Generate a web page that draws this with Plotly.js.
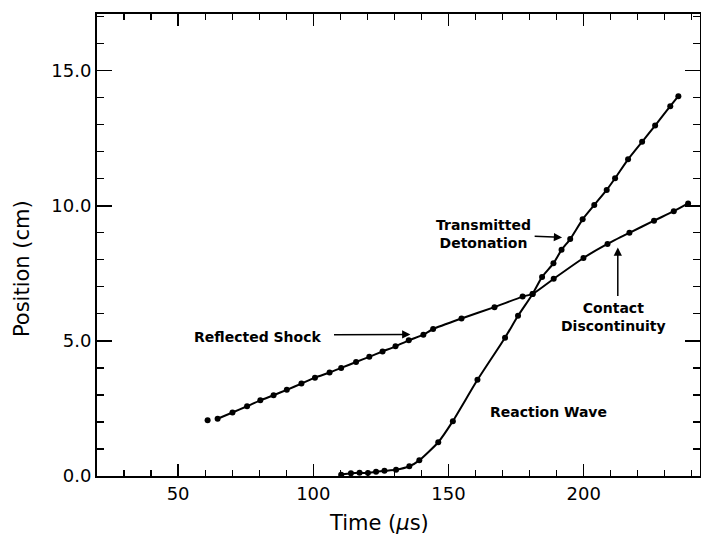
<!DOCTYPE html>
<html>
<head>
<meta charset="utf-8">
<script src="https://cdn.plot.ly/plotly-3.0.1.min.js"></script>
<style>html,body{margin:0;padding:0;background:#fff;}</style>
</head>
<body>
<div id="chart" style="width:701px;height:540px;"></div>
<script>
// Reflected shock, continuing as the contact discontinuity (time in μs, position in cm)
const shockTime = [64.6, 70.1, 75.5, 80.4, 85.3, 90.2, 95.6, 100.6, 106.0, 110.3, 115.8, 120.7, 125.6, 130.4, 135.3, 140.7, 144.3, 154.8, 167.0, 177.4, 181.1, 188.9, 199.9, 208.8, 216.9, 226.0, 233.3, 238.6];
const shockPos  = [2.12, 2.35, 2.58, 2.80, 2.99, 3.19, 3.42, 3.64, 3.83, 4.00, 4.22, 4.41, 4.61, 4.80, 5.02, 5.23, 5.44, 5.83, 6.25, 6.64, 6.74, 7.30, 8.07, 8.59, 9.00, 9.45, 9.80, 10.09];

// Reaction wave, continuing as the transmitted detonation
const reactTime = [110.3, 113.9, 117.1, 120.2, 123.2, 126.3, 130.6, 135.5, 139.2, 146.2, 151.6, 160.7, 170.9, 175.7, 181.1, 184.6, 188.8, 191.8, 195.0, 199.6, 203.9, 208.5, 211.6, 216.4, 221.6, 226.4, 232.0, 235.0];
const reactPos  = [0.05, 0.10, 0.12, 0.11, 0.16, 0.19, 0.23, 0.36, 0.58, 1.25, 2.03, 3.56, 5.12, 5.93, 6.74, 7.37, 7.87, 8.37, 8.77, 9.50, 10.03, 10.59, 11.02, 11.72, 12.37, 12.97, 13.69, 14.06];

// Isolated initial point
const startTime = [60.9];
const startPos  = [2.06];

// Tick labels
const xTickVals = [50, 100, 150, 200];
const xTickText = ['50', '100', '150', '200'];
const yTickVals = [0, 5, 10, 15];
const yTickText = ['0.0', '5.0', '10.0', '15.0'];

const lineStyle = {color: '#000', width: 2};
const markerStyle = {color: '#000', size: 6, symbol: 'circle'};

const traces = [
  {x: shockTime, y: shockPos, mode: 'lines+markers', line: Object.assign({shape: 'spline', smoothing: 0.5}, lineStyle), marker: markerStyle, name: 'Reflected Shock', showlegend: false, hoverinfo: 'x+y'},
  {x: reactTime, y: reactPos, mode: 'lines+markers', line: Object.assign({shape: 'spline', smoothing: 0.5}, lineStyle), marker: markerStyle, name: 'Reaction Wave', showlegend: false, hoverinfo: 'x+y'},
  {x: startTime, y: startPos, mode: 'markers', marker: markerStyle, showlegend: false, hoverinfo: 'x+y'}
];

const annFont = {family: 'DejaVu Sans', size: 14, color: '#000', weight: 'bold'};
const titleFont = {family: 'DejaVu Sans', size: 21, color: '#000'};

function arrow(tx, ty, hx, hy) {
  return {x: hx, y: hy, ax: tx, ay: ty, xref: 'x', yref: 'y', axref: 'x', ayref: 'y',
          text: '', showarrow: true, arrowhead: 2, arrowsize: 1.1, arrowwidth: 1.5, arrowcolor: '#000'};
}

const annotations = [
  {x: 79.3, y: 5.14, xref: 'x', yref: 'y', text: 'Reflected Shock', showarrow: false, font: annFont},
  arrow(107.1, 5.23, 135.9, 5.24),
  {x: 162.9, y: 8.94, xref: 'x', yref: 'y', text: 'Transmitted<br>Detonation', showarrow: false, font: annFont},
  arrow(181.3, 8.88, 192.0, 8.83),
  {x: 210.9, y: 5.87, xref: 'x', yref: 'y', text: 'Contact<br>Discontinuity', showarrow: false, font: annFont},
  arrow(212.6, 6.61, 212.6, 8.46),
  {x: 187.0, y: 2.37, xref: 'x', yref: 'y', text: 'Reaction Wave', showarrow: false, font: annFont},
  {x: 0.4677, y: -0.1017, xref: 'paper', yref: 'paper', text: 'Time (<i>μ</i>s)', showarrow: false, font: titleFont, xanchor: 'center', yanchor: 'middle'},
  {x: -0.1244, y: 0.450, xref: 'paper', yref: 'paper', text: 'Position (cm)', showarrow: false, font: titleFont, textangle: -90, xanchor: 'center', yanchor: 'middle'}
];

const axisCommon = {
  showline: true, linecolor: '#000', linewidth: 2, mirror: 'allticks',
  ticks: 'inside', tickcolor: '#000', tickwidth: 1.5,
  showgrid: false, zeroline: false,
  tickfont: {family: 'DejaVu Sans', size: 18, color: '#000'}
};

const layout = {
  width: 701, height: 540,
  margin: {l: 97, r: 1, t: 14, b: 64},
  paper_bgcolor: '#fff', plot_bgcolor: '#fff',
  showlegend: false,
  xaxis: Object.assign({}, axisCommon, {
    range: [20, 243], tickmode: 'array', tickvals: xTickVals, ticktext: xTickText, ticklen: 12,
    minor: {tick0: 0, dtick: 10, ticks: 'inside', ticklen: 6, tickwidth: 1.2, tickcolor: '#000'}
  }),
  yaxis: Object.assign({}, axisCommon, {
    range: [0, 17.1], tickmode: 'array', tickvals: yTickVals, ticktext: yTickText, ticklen: 15,
    minor: {tick0: 0, dtick: 1, ticks: 'inside', ticklen: 7, tickwidth: 1.2, tickcolor: '#000'}
  }),
  annotations: annotations
};

Plotly.newPlot('chart', traces, layout, {displayModeBar: false, staticPlot: true});
</script>
</body>
</html>
